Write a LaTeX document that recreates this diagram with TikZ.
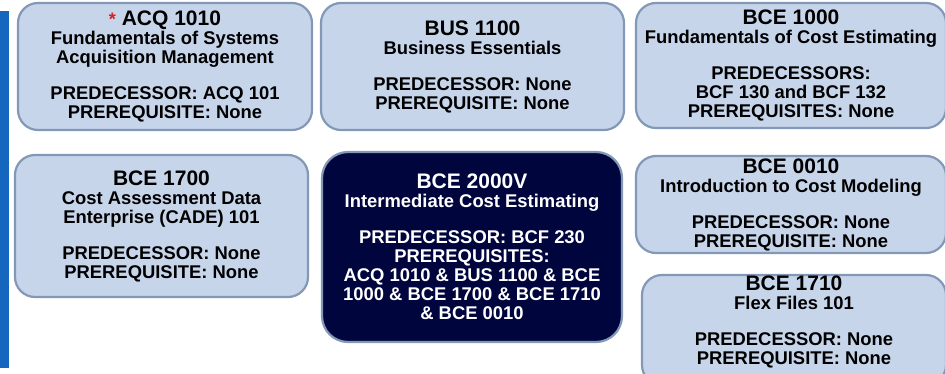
\documentclass[tikz,border=0pt]{standalone}
\usepackage{fontspec}
\setmainfont{Liberation Sans}
\definecolor{boxfill}{HTML}{C7D5EB}
\definecolor{boxline}{HTML}{8298B6}
\definecolor{navyfill}{HTML}{00063D}
\definecolor{barblue}{HTML}{1566BF}
\definecolor{starred}{HTML}{D81E1E}
\newcommand\crsbody{\fontsize{18.4}{19}\selectfont\bfseries}
\newcommand\crstitle[1]{{\fontsize{21}{19}\selectfont #1}}
\tikzset{
  lightbox/.style={draw=boxline, line width=2.2pt, fill=boxfill, rounded corners=20pt,
    align=center, text=black, font=\crsbody, inner sep=0pt},
  darkbox/.style={lightbox, fill=navyfill, text=white, rounded corners=26pt},
  plaintext/.style={align=center, text=black, font=\crsbody, inner sep=0pt},
  sidebar/.style={fill=barblue, inner sep=0pt, minimum width=9pt, minimum height=357pt}
}
\begin{document}
\begin{tikzpicture}[x=1pt,y=-1pt]
\useasboundingbox (0,0) rectangle (945,374);
\clip (0,0) rectangle (945,374);
\node[sidebar] (bar) at (4.5,189.5) {};
\node[lightbox, minimum width=294pt, minimum height=127pt] (acq) at (165,66.5)
 {\crstitle{\textcolor{starred}{\fontsize{18}{19}\selectfont *} ACQ 1010}\\
  Fundamentals of Systems\\ Acquisition Management\\[17pt]
  PREDECESSOR: ACQ 101\\ PREREQUISITE: None};
\node[lightbox, minimum width=303pt, minimum height=127pt] (bus) at (472.5,66.5)
 {\crstitle{BUS 1100}\\ Business Essentials\\[17pt]
  PREDECESSOR: None\\ PREREQUISITE: None};
\node[lightbox, minimum width=310pt, minimum height=125pt] (bce1000) at (791,65.5)
 {\crstitle{BCE 1000}\\ Fundamentals of Cost Estimating\\[17pt]
  PREDECESSORS:\\ BCF 130 and BCF 132\\ PREREQUISITES: None};
\node[lightbox, minimum width=293pt, minimum height=142pt] (bce1700) at (161.5,226)
 {\crstitle{BCE 1700}\\ Cost Assessment Data\\ Enterprise (CADE) 101\\[17pt]
  PREDECESSOR: None\\ PREREQUISITE: None};
\node[darkbox, minimum width=300pt, minimum height=190pt] (bce2000) at (472,247)
 {\crstitle{BCE 2000V}\\ Intermediate Cost Estimating\\[17pt]
  PREDECESSOR: BCF 230\\ PREREQUISITES:\\ ACQ 1010 \& BUS 1100 \& BCE\\
  1000 \& BCE 1700 \& BCE 1710\\ \& BCE 0010};
\node[lightbox, minimum width=310pt, minimum height=97pt] (bce0010) at (791,204.5)
 {\crstitle{BCE 0010}\\ Introduction to Cost Modeling\\[17pt]
  PREDECESSOR: None\\ PREREQUISITE: None};
\node[lightbox, minimum width=304pt, minimum height=110pt] (bce1710) at (794,330) {};
\node[plaintext] (bce1710text) at (794,322)
 {\crstitle{BCE 1710}\\ Flex Files 101\\[17pt]
  PREDECESSOR: None\\ PREREQUISITE: None};
\end{tikzpicture}
\end{document}
